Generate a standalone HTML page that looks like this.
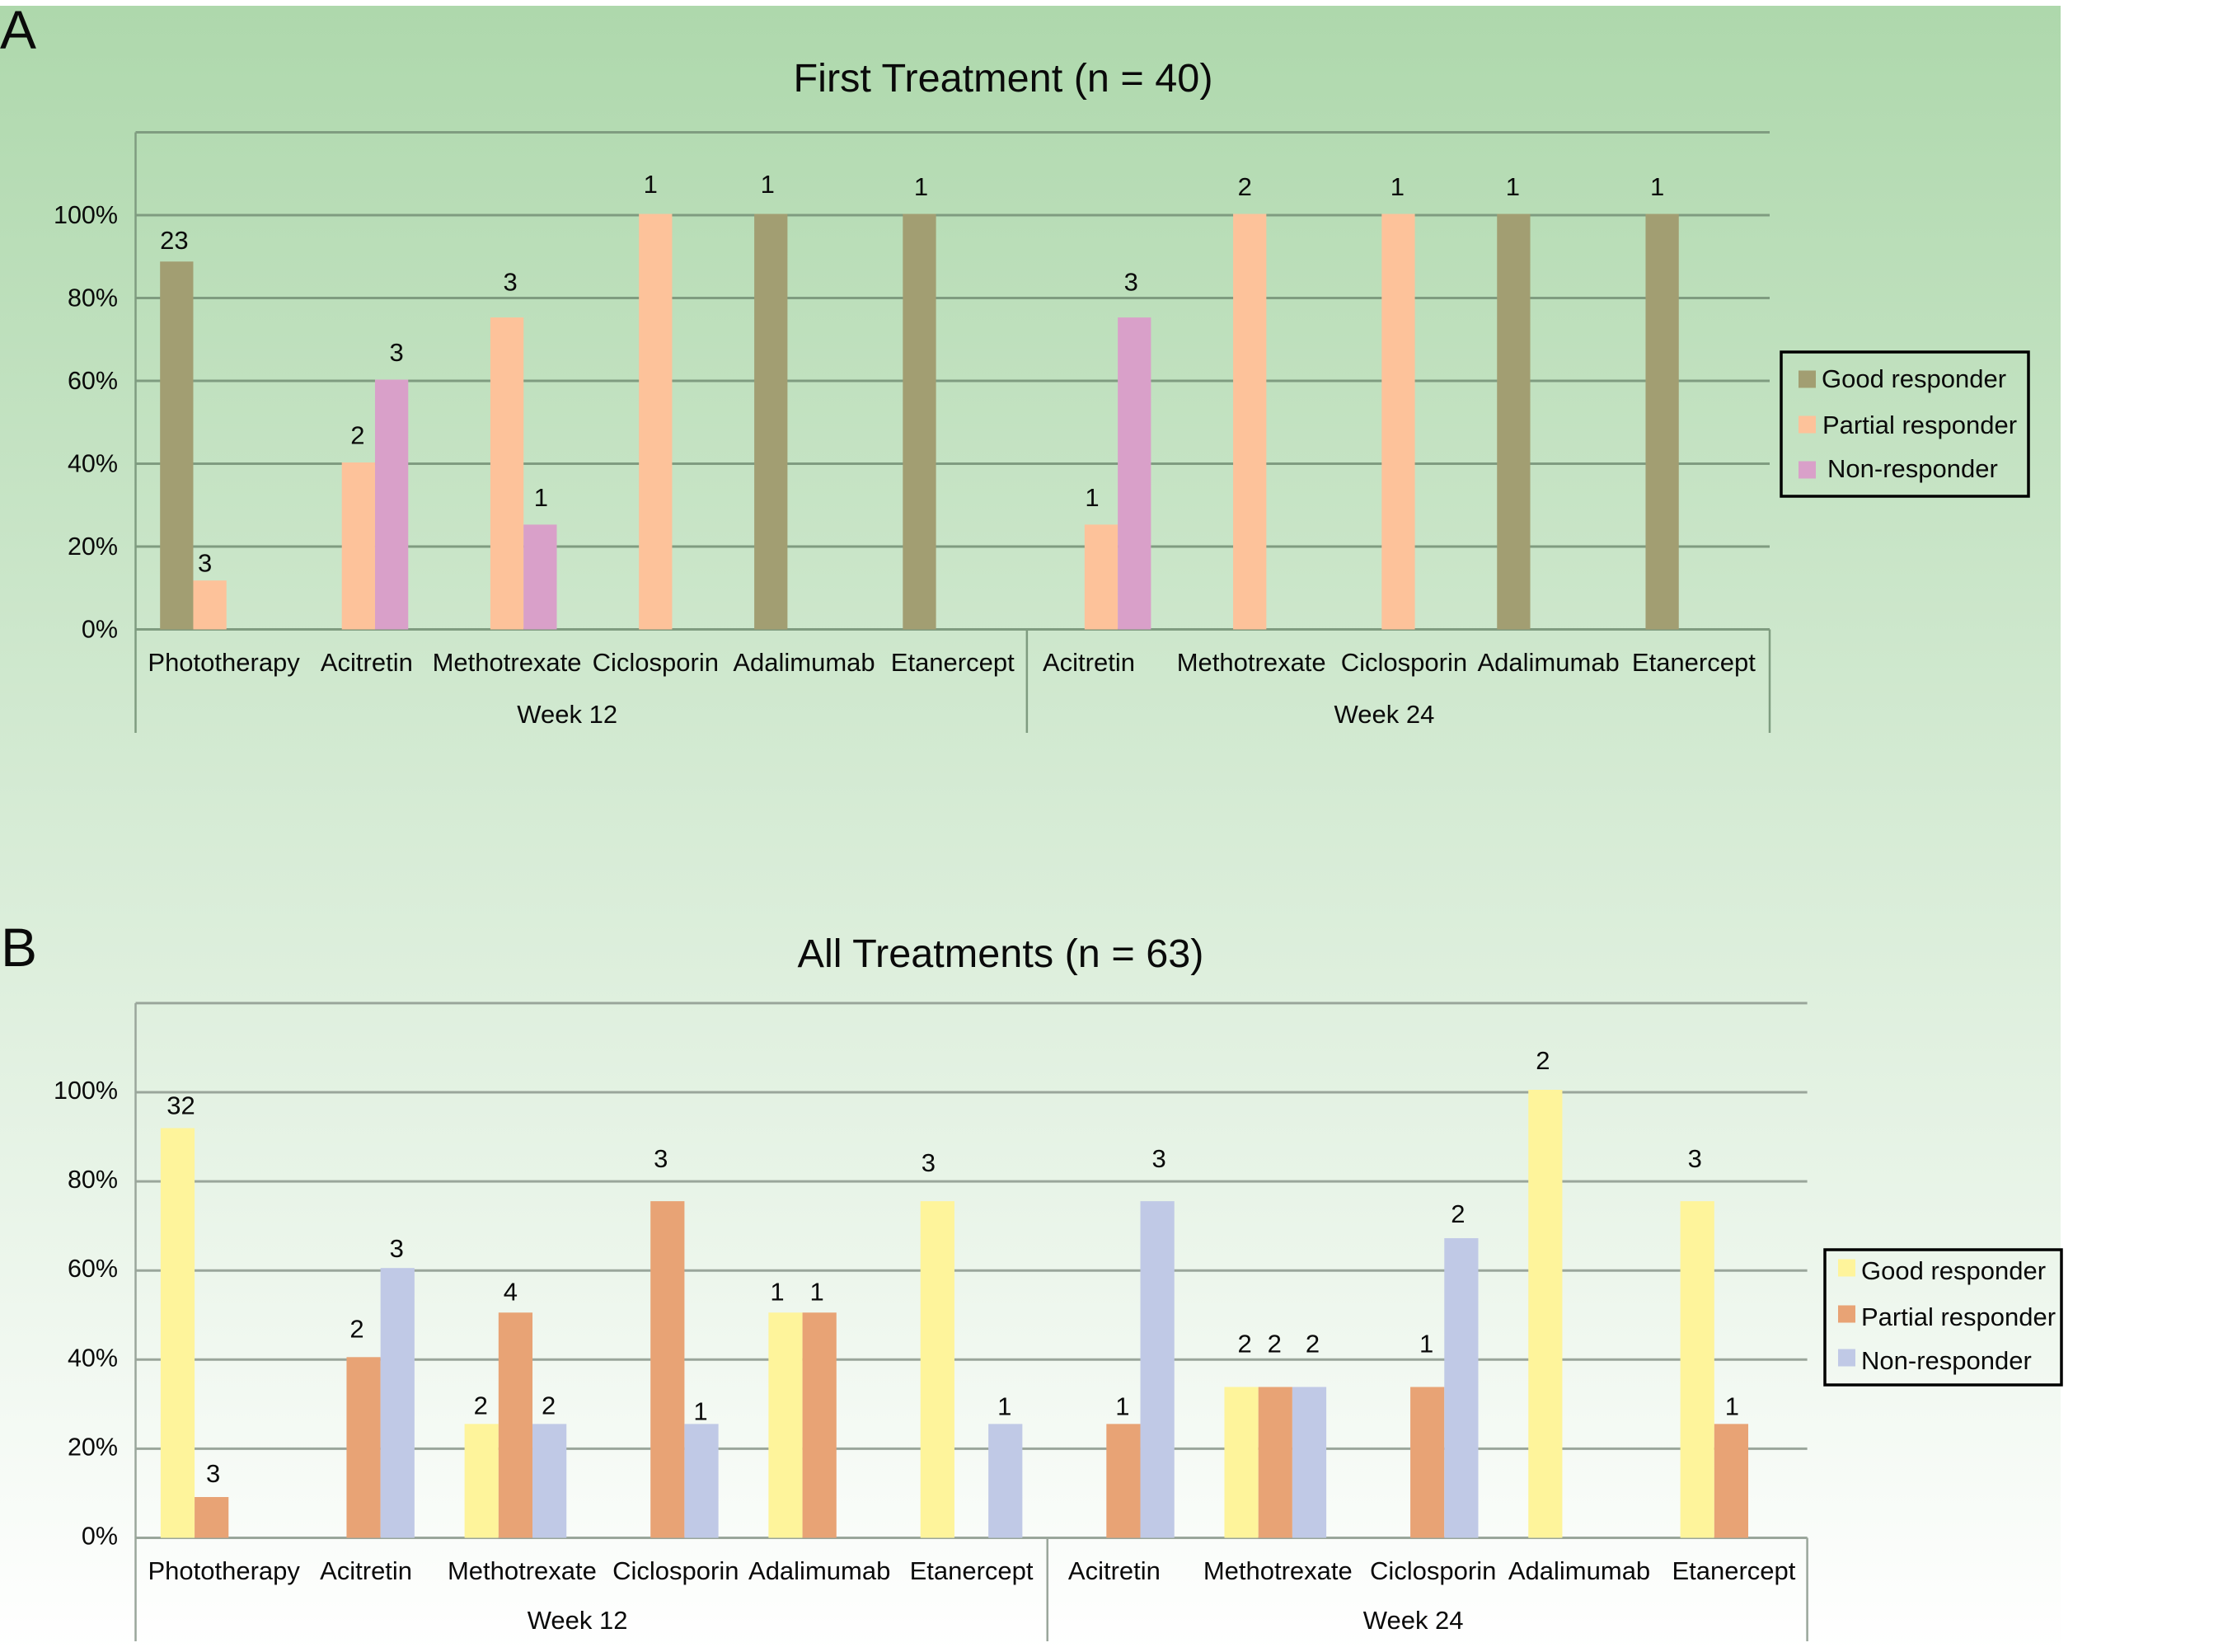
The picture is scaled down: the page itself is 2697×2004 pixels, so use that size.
<!DOCTYPE html>
<html lang="en">
<head>
<meta charset="utf-8">
<title>Treatment response</title>
<style>
html,body{margin:0;padding:0;background:#fff;}
svg{display:block;}
text{font-family:"Liberation Sans",sans-serif;fill:#0a0a0a;}
</style>
</head>
<body>
<svg id="figure" xmlns="http://www.w3.org/2000/svg" width="2697" height="2004" viewBox="0 0 2697 2004">
  <defs>
    <linearGradient id="bg-gradient" x1="0" y1="0" x2="0" y2="1">
      <stop offset="0" stop-color="#aed8ac"/>
      <stop offset="1" stop-color="#ffffff"/>
    </linearGradient>
  </defs>
  <rect x="0" y="7" width="2500" height="1997" fill="url(#bg-gradient)"/>
</svg>
<script>
const tickValues = [0, 20, 40, 60, 80, 100];
const seriesNames = ['Good responder', 'Partial responder', 'Non-responder'];

const categoriesA = ['Phototherapy', 'Acitretin', 'Methotrexate', 'Ciclosporin', 'Adalimumab', 'Etanercept', 'Acitretin', 'Methotrexate', 'Ciclosporin', 'Adalimumab', 'Etanercept'];
const groupNamesA = ['Week 12', 'Week 24'];
const groupSizesA = [6, 5];
const goodPctA = [88.5, null, null, null, 100, 100, null, null, null, 100, 100];
const partialPctA = [11.5, 40, 75, 100, null, null, 25, 100, 100, null, null];
const nonPctA = [null, 60, 25, null, null, null, 75, null, null, null, null];
const goodCountA = [23, null, null, null, 1, 1, null, null, null, 1, 1];
const partialCountA = [3, 2, 3, 1, null, null, 1, 2, 1, null, null];
const nonCountA = [null, 3, 1, null, null, null, 3, null, null, null, null];

const categoriesB = ['Phototherapy', 'Acitretin', 'Methotrexate', 'Ciclosporin', 'Adalimumab', 'Etanercept', 'Acitretin', 'Methotrexate', 'Ciclosporin', 'Adalimumab', 'Etanercept'];
const groupNamesB = ['Week 12', 'Week 24'];
const groupSizesB = [6, 5];
const goodPctB = [91.4, null, 25, null, 50, 75, null, 33.3, null, 100, 75];
const partialPctB = [8.6, 40, 50, 75, 50, null, 25, 33.3, 33.3, null, 25];
const nonPctB = [null, 60, 25, 25, null, 25, 75, 33.3, 66.7, null, null];
const goodCountB = [32, null, 2, null, 1, 3, null, 2, null, 2, 3];
const partialCountB = [3, 2, 4, 3, 1, null, 1, 2, 1, null, 1];
const nonCountB = [null, 3, 2, 1, null, 1, 3, 2, 2, null, null];

const svg = document.getElementById('figure');
const NS = 'http://www.w3.org/2000/svg';

function make(tag, parent, props, content) {
  const el = document.createElementNS(NS, tag);
  for (const k in props) el.setAttribute(k, props[k]);
  if (content !== undefined) el.textContent = content;
  parent.appendChild(el);
  return el;
}

function drawPanel(p) {
  const root = make('g', svg, {});
  
  

  const n = p.categories.length;
  const slot = (p.xRight - p.xLeft) / n;
  const barW = slot * 0.2235;
  const xCenter = i => p.xLeft + slot * (i + 0.5);
  const yScale = v => p.y0 - (v / 100) * (p.y0 - p.y100);

  const letter = make('text', root, {x: p.letterX, y: p.letterY, 'font-size': 66}, p.id.toUpperCase());
  
  

  const title = make('text', root, {x: p.titleX, y: p.titleY, 'font-size': 48.6, 'text-anchor': 'middle'}, p.title);
  
  

  // gridlines, including the unlabelled top line at 120%
  tickValues.concat([120]).forEach(v => {
    const line = make('line', root, {x1: p.xLeft, x2: p.xRight, y1: yScale(v), y2: yScale(v), stroke: p.gridColor, 'stroke-width': 3});
    
    
  });
  tickValues.forEach(v => {
    const t = make('text', root, {x: 143, y: yScale(v) + p.tickDy, 'font-size': 30.5, 'text-anchor': 'end'}, v + '%');
    
    
  });

  // vertical axis and group separators
  const axisLine = make('line', root, {x1: p.xLeft, x2: p.xLeft, y1: yScale(120), y2: p.sepBottom, stroke: p.gridColor, 'stroke-width': 2.5});
  
  

  let start = 0;
  p.groupSizes.forEach((size, g) => {
    const x1 = p.xLeft + start * slot;
    const x2 = p.xLeft + (start + size) * slot;
    const sep = make('line', root, {x1: x2, x2: x2, y1: yScale(0), y2: p.sepBottom, stroke: p.gridColor, 'stroke-width': 2.5});
    
    
    const label = make('text', root, {x: (x1 + x2) / 2 - 17, y: p.groupY, 'font-size': 31, 'text-anchor': 'middle'}, p.groupNames[g]);
    
    
    start += size;
  });

  // category labels
  p.categories.forEach((c, i) => {
    const t = make('text', root, {x: xCenter(i) + (p.labelShift[i] || 0), y: p.catY, 'font-size': 31, 'text-anchor': 'middle'}, c);
    
    
  });

  // bars and count labels
  p.series.forEach((values, s) => {
    values.forEach((v, i) => {
      if (v === null) return;
      const x = xCenter(i) + (s - 1.5) * barW;
      const top = yScale(v);
      const barTop = top - p.barLift;
      const bar = make('rect', root, {x: x, y: barTop, width: barW, height: yScale(0) - barTop, fill: p.colors[s]});
      
      
      const count = p.counts[s][i];
      if (count !== null) {
        const nudge = p.countNudge[s + '-' + i] || [0, 0];
        const t = make('text', root, {x: x + barW / 2 - 1 + nudge[0], y: top - p.countGap + nudge[1], 'font-size': 31, 'text-anchor': 'middle'}, count);
        
        
      }
    });
  });

  // legend
  const L = p.legend;
  const lg = make('g', root, {});
  
  
  const box = make('rect', lg, {x: L.x, y: L.y, width: L.w, height: L.h, fill: 'none', stroke: '#000', 'stroke-width': 3.5});
  
  
  seriesNames.forEach((name, s) => {
    const sw = make('rect', lg, {x: L.swatchX, y: L.rowY[s] - 10.5, width: 21, height: 21, fill: p.colors[s]});
    
    
    const t = make('text', lg, {x: L.textX[s], y: L.textY[s], 'font-size': 31}, name);
    
    
  });
}

drawPanel({
  id: 'a', title: 'First Treatment (n = 40)',
  letterX: 0, letterY: 59, titleX: 1217, titleY: 111,
  categories: categoriesA, groupNames: groupNamesA, groupSizes: groupSizesA,
  series: [goodPctA, partialPctA, nonPctA],
  counts: [goodCountA, partialCountA, nonCountA],
  colors: ['#a29e72', '#fdc29a', '#d9a0c9'],
  gridColor: '#7f9c80',
  xLeft: 164.5, xRight: 2147, y0: 763.5, y100: 261, barLift: 1.5,
  tickDy: 10, catY: 814, groupY: 877, sepBottom: 889, countGap: 24,
  labelShift: {0: 17, 1: 10, 6: -15, 7: 2, 8: 7, 9: 2, 10: -2},
  countNudge: {
    '0-0': [-2, 7], '1-0': [-5, 12], '2-1': [7, 0], '1-2': [5, -10], '2-2': [2, 0],
    '1-3': [-5, -3], '0-4': [-3, -3], '0-5': [3, 0], '1-6': [-10, 0], '2-6': [-3, -10],
    '1-7': [-5, 0], '0-10': [-5, 0]
  },
  legend: {x: 2161, y: 427, w: 300, h: 175, swatchX: 2182, textX: [2210, 2211, 2217], rowY: [460, 515, 570], textY: [470, 526, 579]}
});

drawPanel({
  id: 'b', title: 'All Treatments (n = 63)',
  letterX: 1, letterY: 1172, titleX: 1214, titleY: 1173,
  categories: categoriesB, groupNames: groupNamesB, groupSizes: groupSizesB,
  series: [goodPctB, partialPctB, nonPctB],
  counts: [goodCountB, partialCountB, nonCountB],
  colors: ['#fef49b', '#e8a375', '#c0c9e6'],
  gridColor: '#9aa69b',
  xLeft: 164.5, xRight: 2192.6, y0: 1865.5, y100: 1325, barLift: 3,
  tickDy: 8, catY: 1916, groupY: 1976, sepBottom: 1991, countGap: 24,
  labelShift: {0: 15, 1: 3, 2: 8, 3: 10, 6: -11, 7: 3, 8: 7, 10: 3},
  countNudge: {
    '0-0': [5, 4], '1-0': [3, 3], '1-1': [-7, -3], '2-1': [0, 8], '0-2': [0, 9], '1-2': [-5, 6], '2-2': [0, 9],
    '1-3': [-7, -20], '2-3': [0, 16], '0-4': [-9, 6], '1-4': [-2, 6], '0-5': [-10, -15], '2-5': [0, 10],
    '1-6': [0, 10], '2-6': [3, -20], '0-7': [5, -21], '1-7': [0, -21], '2-7': [5, -21],
    '1-8': [0, -21], '2-8': [-3, 2], '0-9': [-2, -4], '0-10': [-2, -20], '1-10': [2, 10]
  },
  legend: {x: 2214, y: 1516, w: 287, h: 164, swatchX: 2230, textX: [2258, 2258, 2258], rowY: [1538, 1594, 1647], textY: [1552, 1608, 1661]}
});
</script>
</body>
</html>
